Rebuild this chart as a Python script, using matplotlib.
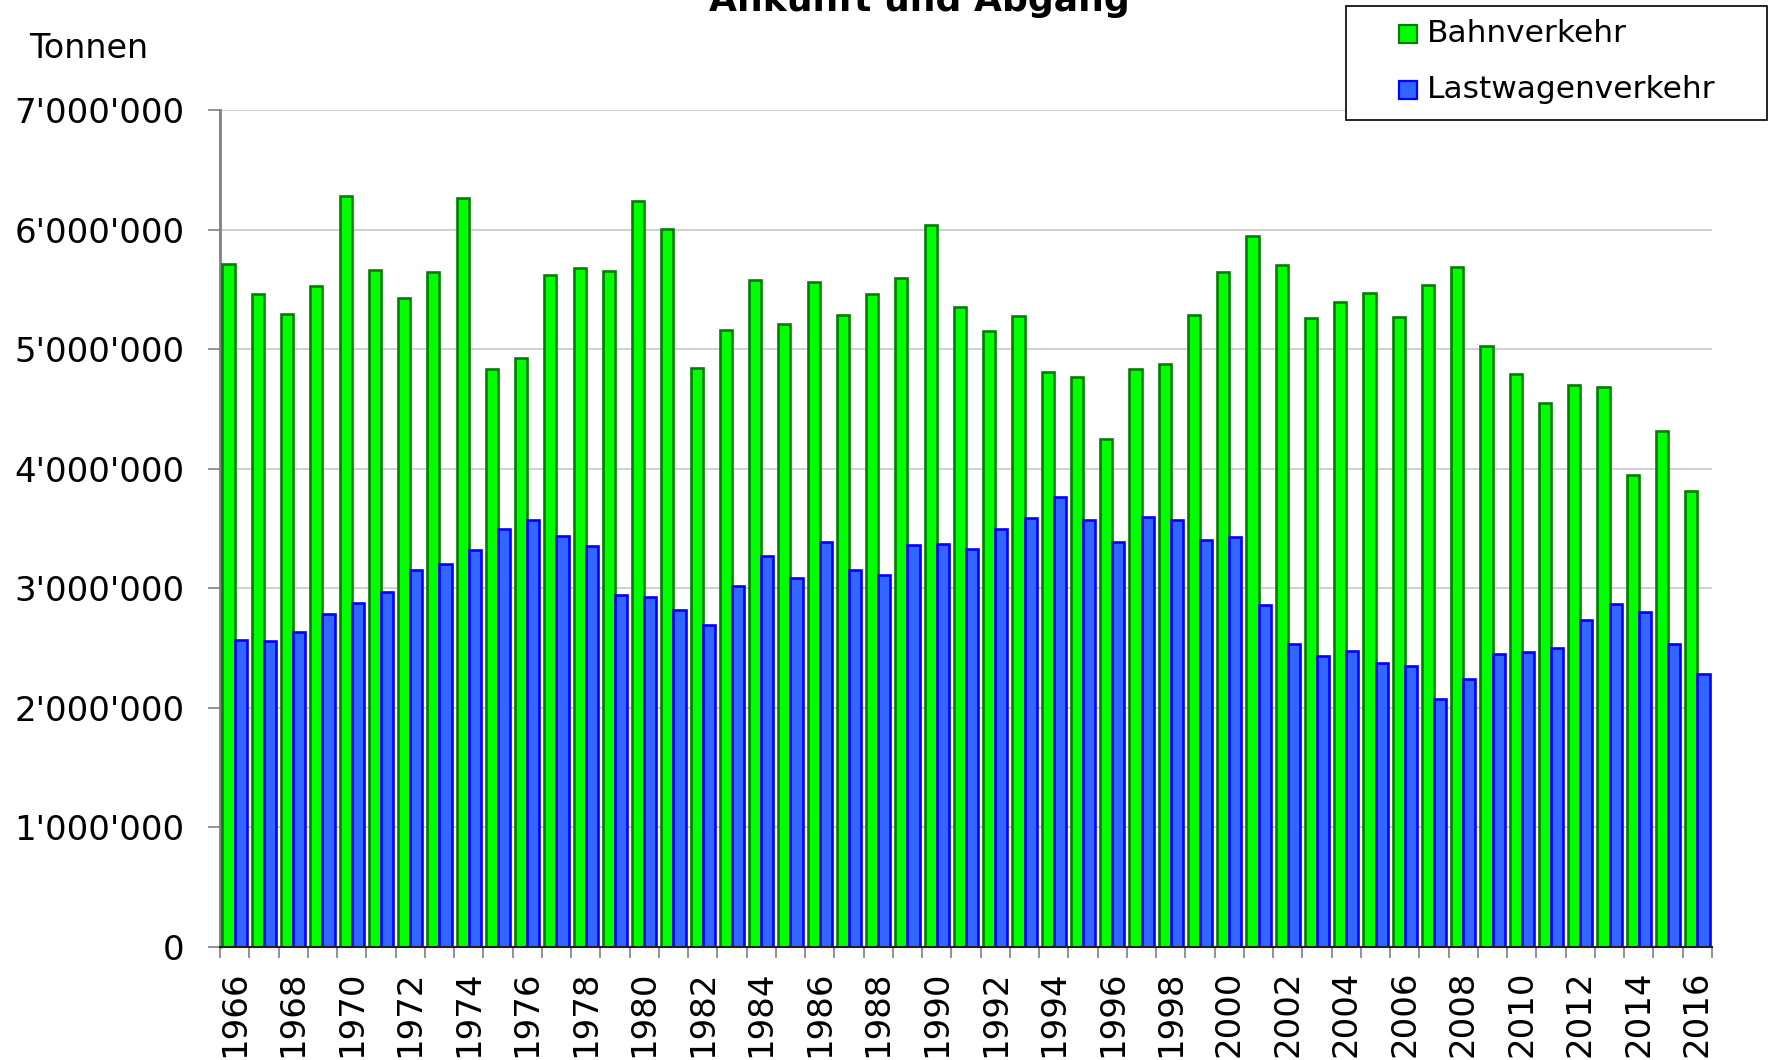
import numpy as np
import matplotlib.pyplot as plt
from matplotlib.patches import Rectangle
from matplotlib.ticker import FuncFormatter, MultipleLocator

# Jahre und Tonnen (Ankunft und Abgang)
years = list(range(1966, 2017))

bahn = [5710000, 5457000, 5292000, 5526000, 6279000, 5666000, 5429000, 5649000, 6268000,
        4832000, 4927000, 5621000, 5679000, 5654000, 6240000, 6008000, 4841000,
        5163000, 5582000, 5211000, 5565000, 5289000, 5462000, 5599000, 6036000,
        5352000, 5150000, 5276000, 4808000, 4768000, 4250000, 4830000, 4877000, 5289000,
        5645000, 5949000, 5704000, 5260000, 5394000, 5472000, 5266000, 5534000,
        5684000, 5027000, 4791000, 4552000, 4704000, 4681000, 3946000, 4313000, 3812000]

lastwagen = [2566000, 2561000, 2636000, 2786000, 2876000, 2968000, 3149000, 3202000, 3324000,
             3494000, 3567000, 3436000, 3352000, 2948000, 2929000, 2820000, 2697000,
             3018000, 3269000, 3090000, 3389000, 3155000, 3115000, 3366000, 3372000,
             3327000, 3500000, 3584000, 3763000, 3573000, 3384000, 3598000, 3573000, 3404000,
             3430000, 2860000, 2537000, 2436000, 2472000, 2376000, 2349000, 2078000,
             2239000, 2451000, 2466000, 2501000, 2731000, 2866000, 2803000, 2537000, 2284000]

labels = ["Bahnverkehr", "Lastwagenverkehr"]
green, green_edge = "#00FF00", "#008000"
blue, blue_edge = "#3366FF", "#0000FF"

W, H = 1769, 1060
fig = plt.figure(figsize=(W / 100, H / 100), dpi=100)
ax = fig.add_axes([220 / W, 1 - 947 / H, (1712 - 220) / W, (947 - 110) / H])

x = np.arange(len(years))
bw = 0.415
ax.bar(x - bw / 2, bahn, bw, color=green, edgecolor=green_edge, linewidth=1.9, zorder=3)
ax.bar(x + bw / 2, lastwagen, bw, color=blue, edgecolor=blue_edge, linewidth=1.9, zorder=3)

ax.set_xlim(-0.5, len(years) - 0.5)
ax.set_ylim(0, 7000000)

ax.yaxis.set_major_locator(MultipleLocator(1000000))
ax.yaxis.set_major_formatter(FuncFormatter(lambda v, p: f"{int(v):,}".replace(",", "'")))
ax.grid(axis="y", color="#C8C8C8", linewidth=1.2, zorder=0)
ax.tick_params(axis="y", labelsize=24.5, length=8.6, width=1.2, color="#808080", pad=17)

# Beschriftung jedes zweite Jahr, Striche an den Kategoriegrenzen
ax.set_xticks(x[::2])
ax.set_xticklabels([str(y) for y in years[::2]], rotation=90, va="top")
ax.set_xticks(np.arange(-0.5, len(years)), minor=True)
ax.tick_params(axis="x", which="major", labelsize=24.5, length=0, pad=17)
ax.tick_params(axis="x", which="minor", length=8, width=1.2, color="#808080")

for s in ["top", "right"]:
    ax.spines[s].set_visible(False)
ax.spines["left"].set_color("#808080")
ax.spines["left"].set_linewidth(2)
ax.spines["bottom"].set_color("#202020")
ax.spines["bottom"].set_linewidth(1.5)
ax.spines["bottom"].set_zorder(4)

fig.text(919 / W, 1 - 11 / H, "Ankunft und Abgang", ha="center", va="baseline",
         fontsize=26, fontweight="bold")
fig.text(29 / W, 1 - 58 / H, "Tonnen", ha="left", va="baseline", fontsize=24)

# Legende
fig.add_artist(Rectangle((1346 / W, 1 - 120 / H), (1767 - 1346) / W, 114 / H,
                         transform=fig.transFigure, facecolor="white",
                         edgecolor="black", linewidth=1.2))
for yc, lab, fc, ec in [(34, labels[0], green, green_edge), (90, labels[1], blue, blue_edge)]:
    fig.add_artist(Rectangle((1399 / W, 1 - (yc + 9) / H), 18 / W, 18 / H,
                             transform=fig.transFigure, facecolor=fc,
                             edgecolor=ec, linewidth=1.6))
    fig.text(1427 / W, 1 - yc / H, lab, ha="left", va="center", fontsize=22.5)

fig.savefig("out.png", dpi=100)
